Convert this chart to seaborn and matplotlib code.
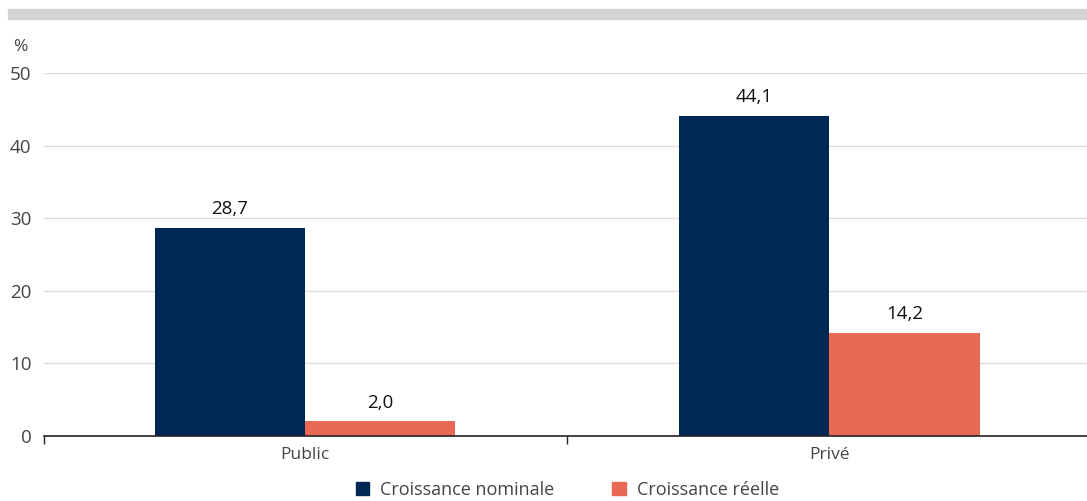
import pandas as pd
import numpy as np
import matplotlib.pyplot as plt
import matplotlib.patches as mpatches
import seaborn as sns

# data
categories = ['Public', 'Privé']
series = ['Croissance nominale', 'Croissance réelle']
nominale = [28.7, 44.1]
reelle = [2.0, 14.2]
colors = ['#002855', '#E86A55']

df = pd.DataFrame({
    'Secteur': categories * 2,
    'Serie': [series[0]] * 2 + [series[1]] * 2,
    'Valeur': nominale + reelle,
})

sns.set_theme(style='white')
plt.rcParams['font.family'] = ['Open Sans', 'DejaVu Sans']

fig = plt.figure(figsize=(10.87, 5.01), dpi=100)
ax = fig.add_axes([44 / 1087, 1 - 436 / 501, 1 - 44 / 1087, (436 - 73) / 501])

sns.barplot(data=df, x='Secteur', y='Valeur', hue='Serie', order=categories,
            hue_order=series, palette=colors, width=0.574, saturation=1,
            edgecolor='none', linewidth=0, ax=ax, legend=False)

ax.set_xlim(-0.498, 1.492)
ax.set_ylim(0, 50)
ax.set_yticks(np.arange(0, 51, 10))
ax.yaxis.grid(True, color='#dddddd', linewidth=1)
ax.set_axisbelow(True)
for s in ['top', 'right', 'left']:
    ax.spines[s].set_visible(False)
ax.spines['bottom'].set_color('#222222')
ax.spines['bottom'].set_linewidth(1.2)
ax.set_xlabel('')
ax.set_ylabel('')
ax.tick_params(axis='y', length=0, labelsize=13.5, labelcolor='#444444', pad=9)
ax.tick_params(axis='x', which='major', length=0, labelsize=12.5, labelcolor='#444444', pad=8)
ax.set_xticks([-0.498, 0.5], minor=True)
ax.tick_params(axis='x', which='minor', bottom=True, length=6, width=1,
               color='#222222', direction='out')

for cont in ax.containers:
    labels = [f'{v:.1f}'.replace('.', ',') for v in cont.datavalues]
    ax.bar_label(cont, labels=labels, padding=7, fontsize=13.5, color='#111111')

fig.text(13 / 1087, 1 - 47 / 501, '%', fontsize=12.5, color='#444444', va='center')

fig.patches.append(mpatches.Rectangle((8 / 1087, 1 - 19 / 501), 1 - 8 / 1087, 10 / 501,
                                      transform=fig.transFigure, color='#d4d4d4', zorder=0))

handles = [mpatches.Patch(color=c, label=l) for c, l in zip(colors, series)]
fig.legend(handles=handles, loc='center', bbox_to_anchor=(0.522, 1 - 490 / 501), ncol=2,
           frameon=False, fontsize=13, handlelength=0.75, handleheight=0.75,
           handletextpad=0.6, columnspacing=3.2, labelcolor='#444444')

fig.savefig('out.png', dpi=100)
